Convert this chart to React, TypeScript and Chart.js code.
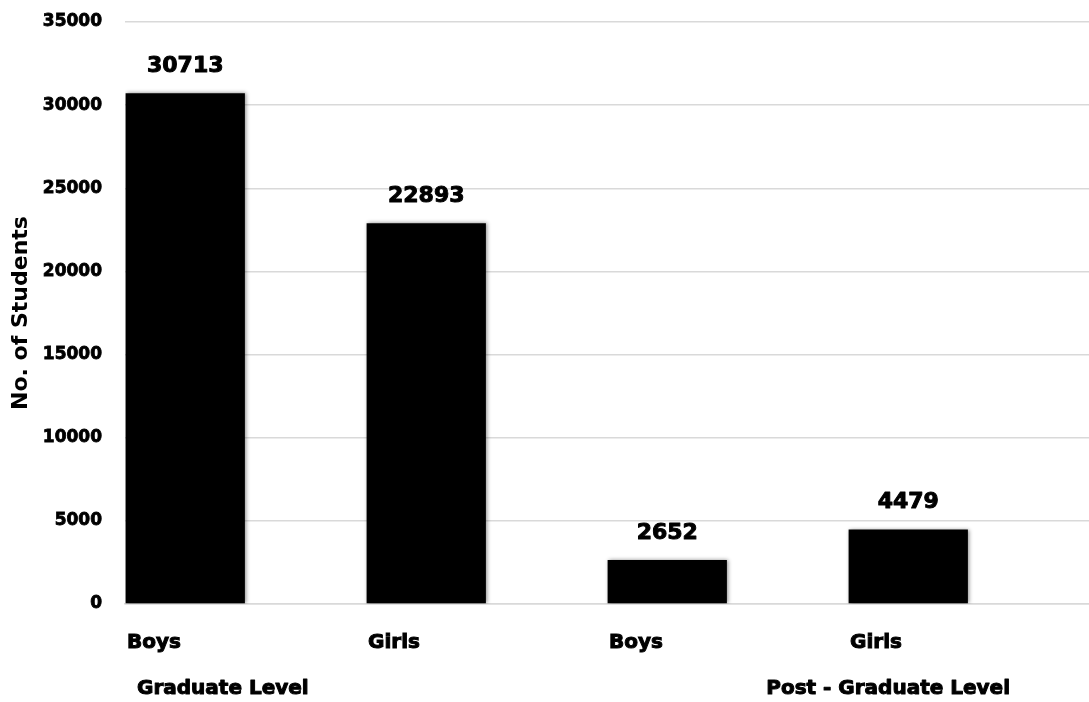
import React, { useEffect, useRef } from "react";
import { Chart, registerables } from "chart.js";

Chart.register(...registerables);

const categories = ["Boys", "Girls", "Boys", "Girls"];
const studentCounts = [30713, 22893, 2652, 4479];
const spacerValues = [null, null, null, null];
const groupLabels = ["Graduate Level", "Post - Graduate Level"];
const yAxisTitle = "No. of Students";
const yMin = 0;
const yMax = 35000;
const yStep = 5000;

const FONT = "'DejaVu Sans', 'Liberation Sans', sans-serif";

const shadowPlugin = {
  id: "barShadow",
  beforeDatasetsDraw(chart: any) {
    const ctx = chart.ctx;
    ctx.save();
    ctx.shadowColor = "rgba(0,0,0,0.45)";
    ctx.shadowBlur = 4;
    ctx.shadowOffsetX = 1;
    ctx.shadowOffsetY = 0;
  },
  afterDatasetsDraw(chart: any) {
    chart.ctx.restore();
  },
};

function heavyText(ctx: CanvasRenderingContext2D, text: string, x: number, y: number, w: number) {
  ctx.lineWidth = w;
  ctx.lineJoin = "round";
  ctx.strokeStyle = "#000";
  ctx.strokeText(text, x, y);
  ctx.fillText(text, x, y);
}

const valueLabelPlugin = {
  id: "valueLabels",
  afterDraw(chart: any) {
    const ctx = chart.ctx;
    const meta = chart.getDatasetMeta(0);
    ctx.save();
    ctx.font = `bold 22px ${FONT}`;
    ctx.fillStyle = "#000";
    ctx.textAlign = "center";
    ctx.textBaseline = "middle";
    meta.data.forEach((bar: any, i: number) => {
      const v = chart.data.datasets[0].data[i];
      if (v == null) return;
      heavyText(ctx, String(v), bar.x, bar.y - 27, 1);
    });
    ctx.restore();
  },
};

const groupLabelPlugin = {
  id: "groupLabels",
  afterDraw(chart: any) {
    const ctx = chart.ctx;
    const area = chart.chartArea;
    ctx.save();
    ctx.font = `bold 20px ${FONT}`;
    ctx.fillStyle = "#000";
    ctx.textBaseline = "middle";
    ctx.textAlign = "left";
    heavyText(ctx, groupLabels[0], area.left + 12, 689, 1);
    ctx.textAlign = "right";
    heavyText(ctx, groupLabels[1], area.right - 79, 689, 1);
    ctx.restore();
  },
};

export default function App() {
  const canvasRef = useRef<HTMLCanvasElement | null>(null);

  useEffect(() => {
    if (!canvasRef.current) return;
    const chart = new Chart(canvasRef.current, {
      type: "bar",
      data: {
        labels: categories,
        datasets: [
          {
            label: "Students",
            data: studentCounts,
            backgroundColor: "#000000",
            borderWidth: 0,
            categoryPercentage: 1,
            barPercentage: 0.99,
          },
          {
            label: "spacer",
            data: spacerValues as any,
            backgroundColor: "rgba(0,0,0,0)",
            categoryPercentage: 1,
            barPercentage: 0.99,
          },
        ],
      },
      options: {
        responsive: false,
        animation: false,
        layout: { padding: { top: 22, right: 0, left: 0, bottom: 0 } },
        plugins: {
          legend: { display: false },
          tooltip: { enabled: false },
        },
        scales: {
          x: {
            grid: { display: false, drawTicks: false },
            border: { display: true, color: "#d9d9d9", width: 1.5 },
            ticks: {
              color: "#000",
              font: { family: FONT, size: 20, weight: "bold" },
              textStrokeColor: "#000",
              textStrokeWidth: 1,
              align: "start",
              labelOffset: -118.5,
              padding: 27,
              maxRotation: 0,
              autoSkip: false,
            },
            afterFit(scale: any) {
              scale.height = 98;
              scale.paddingLeft = 0;
              scale.paddingRight = 0;
            },
          },
          y: {
            min: yMin,
            max: yMax,
            grid: { color: "#d9d9d9", lineWidth: 1.5, drawTicks: false },
            border: { display: false },
            ticks: {
              stepSize: yStep,
              color: "#000",
              font: { family: FONT, size: 17, weight: "bold" },
              textStrokeColor: "#000",
              textStrokeWidth: 0.8,
              padding: 23,
              callback: (v: any) => String(v),
            },
            title: {
              display: true,
              text: yAxisTitle,
              color: "#000",
              font: { family: FONT, size: 22, weight: "bold" },
              padding: { top: 8, bottom: 0 },
            },
            afterFit(scale: any) {
              scale.width = 125;
              scale.paddingTop = 0;
              scale.paddingBottom = 0;
            },
          },
        },
      },
      plugins: [shadowPlugin, valueLabelPlugin, groupLabelPlugin],
    });
    return () => chart.destroy();
  }, []);

  return (
    <div style={{ position: "absolute", left: 0, top: 0, width: 1089, height: 702, background: "#fff" }}>
      <canvas ref={canvasRef} width={1089} height={702} style={{ display: "block" }} />
    </div>
  );
}
